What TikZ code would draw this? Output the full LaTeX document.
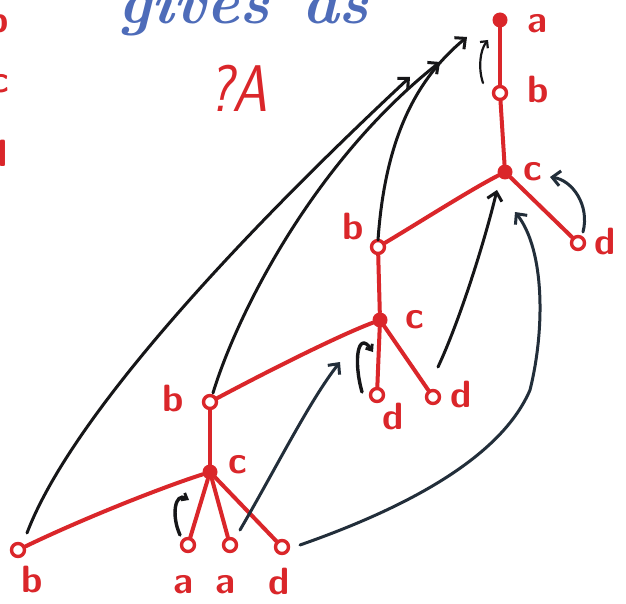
\documentclass[tikz,border=0pt]{standalone}
\usetikzlibrary{arrows.meta}
\definecolor{inkred}{RGB}{218,38,42}
\definecolor{inkblue}{RGB}{78,108,185}
\definecolor{inkblack}{RGB}{22,22,24}
\definecolor{inkslate}{RGB}{34,46,58}
\tikzset{
  redline/.style={inkred, line width=4pt, line cap=round},
  opennode/.style={circle, draw=inkred, line width=3.4pt, fill=white, minimum size=13pt, inner sep=0pt},
  fullnode/.style={circle, fill=inkred, minimum size=15pt, inner sep=0pt},
  lbl/.style={text=inkred, font=\fontsize{38}{38}\selectfont\sffamily\bfseries, inner sep=0pt},
  arr/.style={draw=inkblack, line width=3pt, line cap=round, -{Straight Barb[length=8pt,width=15pt,line width=3pt]}},
  arrs/.style={arr, draw=inkslate},
  hook/.style={draw=inkblack, line width=3.4pt, line cap=round, -{Straight Barb[length=5pt,width=8pt,line width=2.8pt]}},
  headtext/.style={text=inkblue, font=\fontsize{62}{62}\selectfont\bfseries\itshape, anchor=base west, inner sep=0pt},
}
\begin{document}
\begin{tikzpicture}[x=1pt,y=-1pt]
\useasboundingbox (0,0) rectangle (626,604);
\clip (0,0) rectangle (626,604);
\fill[white] (0,0) rectangle (626,604);

% partial letters at the left edge
\node[lbl, anchor=east] (lb) at (9,20) {b};
\node[lbl, anchor=east] (lc) at (9,84) {c};
\node[lbl, anchor=east] (ld) at (8,154) {d};

% heading
\node[headtext] (gives) at (118,24) {gives};
\node[headtext] (as) at (302,24) {as};
\node[text=inkred, font=\fontsize{66}{66}\selectfont\sffamily\itshape, anchor=base, inner sep=0pt, xscale=0.85] (qa) at (238,112) {?A};

% tree nodes
\node[fullnode] (a) at (500,20) {};
\node[opennode] (b) at (500,93) {};
\node[fullnode] (c) at (505,172) {};
\node[opennode] (d) at (578,243) {};
\node[opennode] (b2) at (378,247) {};
\node[fullnode] (c2) at (380,320) {};
\node[opennode] (d2) at (377,395) {};
\node[opennode] (d3) at (433,397) {};
\node[opennode] (b3) at (210,402) {};
\node[fullnode] (c3) at (210,472) {};
\node[opennode] (b4) at (18,550) {};
\node[opennode] (a1) at (188,545) {};
\node[opennode] (a2) at (230,545) {};
\node[opennode] (d4) at (282,547) {};

% red edges
\draw[redline] (a) -- (b);
\draw[redline] (b) -- (c);
\draw[redline] (c) -- (d);
\draw[redline] (c) .. controls (470,190) and (420,222) .. (b2);
\draw[redline] (b2) -- (c2);
\draw[redline] (c2) -- (d2);
\draw[redline] (c2) -- (d3);
\draw[redline] (c2) .. controls (340,335) and (270,370) .. (b3);
\draw[redline] (b3) -- (c3);
\draw[redline] (c3) .. controls (160,488) and (80,520) .. (b4);
\draw[redline] (c3) -- (a1);
\draw[redline] (c3) -- (a2);
\draw[redline] (c3) -- (d4);

% labels
\node[lbl] (la) at (537,24) {a};
\node[lbl] (lbb) at (538,90) {b};
\node[lbl] (lcc) at (533,172) {c};
\node[lbl] (ldd) at (605,242) {d};
\node[lbl] (lb2) at (353,227) {b};
\node[lbl] (lc2) at (415,320) {c};
\node[lbl] (ld2) at (393,417) {d};
\node[lbl] (ld3) at (461,395) {d};
\node[lbl] (lb3) at (173,399) {b};
\node[lbl] (lc3) at (238,465) {c};
\node[lbl] (lb4) at (32,580) {b};
\node[lbl] (la1) at (183,585) {a};
\node[lbl] (la2) at (225,585) {a};
\node[lbl] (ld4) at (279,582) {d};

% arrow tips
\coordinate (t1) at (410,77);
\coordinate (t2) at (440,62);
\coordinate (t3) at (467,37);
\coordinate (t4) at (488,40);
\coordinate (t5) at (550,177);
\coordinate (t6) at (497,190);
\coordinate (t7) at (515,212);
\coordinate (t8) at (340,362);
\coordinate (t9) at (373,352);
\coordinate (t10) at (189,500);

% black arrows
\draw[arr] ([shift={(9,-17)}]b4.center) .. controls (70,420) and (230,245) .. (t1);
\draw[arr] ([shift={(3,-9)}]b3.center) .. controls (235,320) and (310,165) .. (t2);
\draw[arr] ([shift={(0,-7)}]b2.center) .. controls (385,140) and (415,80) .. (t3);
\draw[arr, line width=2.2pt, -{Straight Barb[length=5pt,width=10pt,line width=2.2pt]}] ([shift={(-17,-10)}]b.center) .. controls (478,68) and (480,50) .. (t4);
\draw[arrs] ([shift={(5,-11)}]d.center) .. controls (590,205) and (572,180) .. (t5);
\draw[arr] ([shift={(5,-30)}]d3.center) .. controls (460,320) and (485,240) .. (t6);
\draw[arrs] ([shift={(18,-2)}]d4.center) .. controls (400,510) and (500,460) .. (530,390) .. controls (545,330) and (545,250) .. (t7);
\draw[arrs] ([shift={(10,-15)}]a2.center) .. controls (275,470) and (310,400) .. (t8);
\draw[hook] ([shift={(-15,-3)}]d2.center) .. controls (353,360) and (358,330) .. (t9);
\draw[hook] ([shift={(-8,-10)}]a1.center) .. controls (171,515) and (175,492) .. (t10);
\end{tikzpicture}
\end{document}
